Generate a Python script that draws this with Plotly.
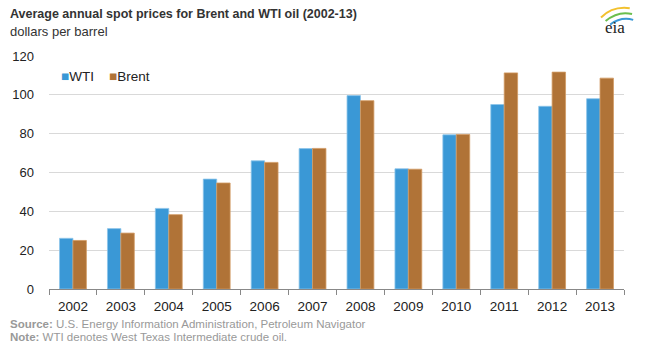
import plotly.graph_objects as go

years = ["2002", "2003", "2004", "2005", "2006", "2007", "2008", "2009", "2010", "2011", "2012", "2013"]
wti = [26.1, 31.1, 41.5, 56.6, 66.0, 72.3, 99.6, 61.9, 79.4, 95.0, 94.1, 98.0]
brent = [25.0, 28.8, 38.3, 54.6, 65.2, 72.4, 97.0, 61.7, 79.6, 111.3, 111.7, 108.6]
y_ticks = [0, 20, 40, 60, 80, 100, 120]
series_names = ["WTI", "Brent"]

FONT = "Liberation Sans, Arial, sans-serif"
WTI_C = "#3A98D6"
BRENT_C = "#B07337"

fig = go.Figure()
fig.add_trace(go.Bar(x=years, y=wti, name="WTI", marker=dict(color=WTI_C, line=dict(color="#8CC4EA", width=0.8))))
fig.add_trace(go.Bar(x=years, y=brent, name="Brent", marker=dict(color=BRENT_C, line=dict(color="#D29A63", width=0.8))))

fig.update_layout(
    width=646, height=344,
    margin=dict(l=45, r=22, t=56, b=55),
    plot_bgcolor="white", paper_bgcolor="white",
    barmode="group", bargap=0.44, bargroupgap=0,
    font=dict(family=FONT, size=13, color="#222"),
    showlegend=False,
    xaxis=dict(showgrid=False, showline=True, linecolor="#888", linewidth=1,
               ticks="outside", tickson="boundaries", ticklen=5, tickcolor="#888",
               ticklabelstandoff=5,
               tickfont=dict(family=FONT, size=13.5, color="#222")),
    yaxis=dict(range=[0, 120], tickvals=y_ticks, showgrid=True, gridcolor="#D9D9D9", gridwidth=1,
               zeroline=False, showline=False, ticks="", ticklabelstandoff=14,
               tickfont=dict(family=FONT, size=13, color="#222")),
)

# legend (drawn as text, matching the compact reference legend)
for name, col, xpos in zip(series_names, [WTI_C, BRENT_C], [0.018, 0.1]):
    fig.add_annotation(xref="paper", yref="paper", x=xpos, y=0.914, xanchor="left", yanchor="middle",
                       text=f'<span style="color:{col}">■</span>{name}',
                       showarrow=False, font=dict(family=FONT, size=13.5, color="#222"))

fig.add_annotation(xref="paper", yref="paper", x=-0.072, y=1.0, yshift=42, xanchor="left", yanchor="middle",
                   text="<b>Average annual spot prices for Brent and WTI oil (2002-13)</b>", showarrow=False,
                   font=dict(family=FONT, size=12.5, color="#333"))
fig.add_annotation(xref="paper", yref="paper", x=-0.072, y=1.0, yshift=25, xanchor="left", yanchor="middle",
                   text="dollars per barrel", showarrow=False, font=dict(family=FONT, size=13, color="#333"))
fig.add_annotation(xref="paper", yref="paper", x=-0.072, y=0, yshift=-35, xanchor="left", yanchor="middle",
                   text="<b>Source:</b> U.S. Energy Information Administration, Petroleum Navigator", showarrow=False,
                   font=dict(family=FONT, size=11.5, color="#999"))
fig.add_annotation(xref="paper", yref="paper", x=-0.072, y=0, yshift=-48, xanchor="left", yanchor="middle",
                   text="<b>Note:</b> WTI denotes West Texas Intermediate crude oil.", showarrow=False,
                   font=dict(family=FONT, size=11.5, color="#999"))
# eia logo
fig.add_annotation(xref="paper", yref="paper", x=0.985, y=1.0, yshift=29, xanchor="center", yanchor="middle",
                   text="eia", showarrow=False, font=dict(family="Liberation Serif, DejaVu Serif, serif", size=17, color="#222"))
fig.add_shape(type="path", xref="paper", yref="paper", path="M 0.96 1.165 Q 0.98 1.215 1.01 1.205",
              line=dict(color="#F2C12E", width=2))
fig.add_shape(type="path", xref="paper", yref="paper", path="M 0.968 1.15 Q 0.99 1.195 1.014 1.18",
              line=dict(color="#6BBF4E", width=2))
fig.add_shape(type="path", xref="paper", yref="paper", path="M 0.976 1.135 Q 0.995 1.17 1.016 1.155",
              line=dict(color="#3A98D6", width=2))

fig.write_html("out.html")
